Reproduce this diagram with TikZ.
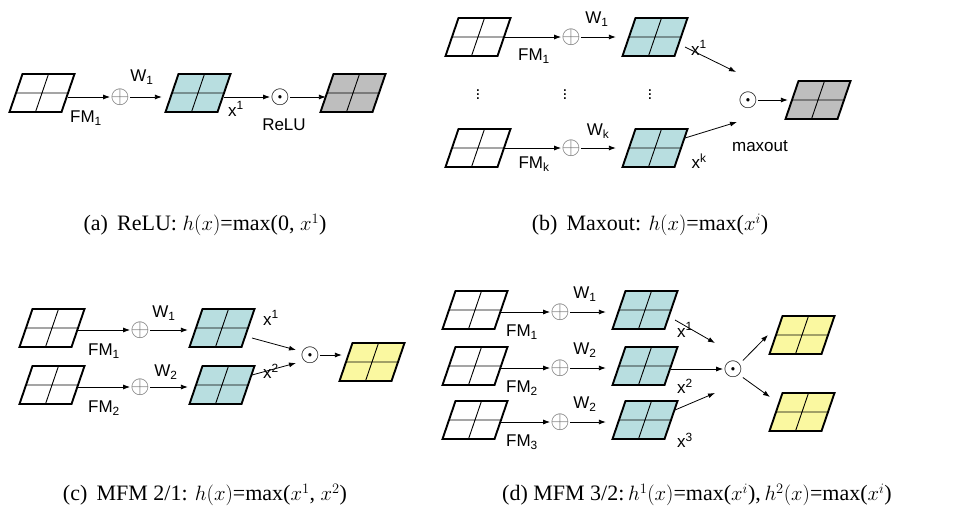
\documentclass[tikz,border=0pt]{standalone}
\usepackage{fontspec}
\setmainfont{Liberation Serif}
\newfontfamily\lab{Liberation Sans}
\usetikzlibrary{arrows.meta}
\tikzset{
  x=1pt,y=-1pt,
  fm/.pic={
    \coordinate (-c) at (0,0);
    \coordinate (-e) at (26,0);
    \coordinate (-w) at (-26,0);
    \coordinate (-se) at (30,10);
    \coordinate (-ne) at (30,-10);
    \fill[#1] (-32.5,19)--(19.5,19)--(32.5,-19)--(-19.5,-19)--cycle;
    \draw[line width=0.9pt] (-26,0)--(26,0) (6.5,-19)--(-6.5,19);
    \draw[line width=1.9pt,line join=miter] (-32.5,19)--(19.5,19)--(32.5,-19)--(-19.5,-19)--cycle;
  },
  arr/.style={-{Latex[length=7pt,width=5pt]},line width=0.8pt},
  op/.style={inner sep=0pt,font=\fontsize{28}{28}\selectfont},
  plus/.style={op,text=black!55},
  lb/.style={font=\lab\fontsize{17}{17}\selectfont,inner sep=0pt},
  captxt/.style={font=\fontsize{22}{24}\selectfont,inner sep=0pt},
}
\definecolor{cy}{RGB}{184,222,224}
\definecolor{gy}{RGB}{190,190,190}
\definecolor{yl}{RGB}{250,248,160}
\begin{document}
\begin{tikzpicture}
\useasboundingbox (0,0) rectangle (980,515);
% (a)
\pic (a1) at (42,93) {fm=white};
\node[plus] (ap) at (120,97) {$\oplus$};
\pic (ac) at (198,93) {fm=cy};
\node[op] (ao) at (280,97) {$\odot$};
\pic (ag) at (353,93) {fm=gy};
\draw[arr] (a1-e |- ap) -- (ap.west);
\draw[arr] (ap.east) -- ++(32,0);
\draw[arr] (ac-e |- ao) -- (ao.west);
\draw[arr] (ao.east) -- ++(36,0);
\node[lb] at (86,118) {FM\textsubscript{1}};
\node[lb] at (142,77) {W\textsubscript{1}};
\node[lb] at (236,109) {x\textsuperscript{1}};
\node[lb] at (284,125) {ReLU};
\node[captxt] at (205,225) {(a)\, ReLU: $h(x)$=max(0, $x^1$)};
% (b)
\pic (b1) at (478,37) {fm=white};
\node[plus] (bp1) at (571,37) {$\oplus$};
\pic (bc1) at (655,37) {fm=cy};
\pic (bk) at (478,148) {fm=white};
\node[plus] (bpk) at (571,148) {$\oplus$};
\pic (bck) at (655,148) {fm=cy};
\node[op] (bo) at (748,100) {$\odot$};
\pic (bg) at (818,100) {fm=gy};
\draw[arr] (b1-e |- bp1) -- (bp1.west);
\draw[arr] (bp1.east) -- ++(35,0);
\draw[arr] (bk-e |- bpk) -- (bpk.west);
\draw[arr] (bpk.east) -- ++(35,0);
\draw[arr] (bc1-se) -- (736,72);
\draw[arr] (bck-ne) -- (737,122);
\draw[arr] (bo.east) -- ++(30,0);
\node[lb] at (534,56) {FM\textsubscript{1}};
\node[lb] at (597,19) {W\textsubscript{1}};
\node[lb] at (699,48) {x\textsuperscript{1}};
\node[lb] at (534,164) {FM\textsubscript{k}};
\node[lb] at (598,131) {W\textsubscript{k}};
\node[lb] at (699,161) {x\textsuperscript{k}};
\node[lb] at (760,146) {maxout};
\foreach \xx in {478,565,650} \node[lb] at (\xx,92) {$\vdots$};
\node[captxt] at (650,225) {(b)\, Maxout: $h(x)$=max($x^i$)};
% (c)
\pic (c1) at (52,328) {fm=white};
\node[plus] (cp1) at (140,330) {$\oplus$};
\pic (cc1) at (222,328) {fm=cy};
\pic (c2) at (52,385) {fm=white};
\node[plus] (cp2) at (140,387) {$\oplus$};
\pic (cc2) at (222,385) {fm=cy};
\node[op] (co) at (310,355) {$\odot$};
\pic (cy) at (372,362) {fm=yl};
\draw[arr] (c1-e |- cp1) -- (cp1.west);
\draw[arr] (cp1.east) -- ++(38,0);
\draw[arr] (c2-e |- cp2) -- (cp2.west);
\draw[arr] (cp2.east) -- ++(38,0);
\draw[arr] (cc1-se) -- (296,350);
\draw[arr] (cc2-ne) -- (296,363);
\draw[arr] (co.east) -- ++(22,0);
\node[lb] at (104,351) {FM\textsubscript{1}};
\node[lb] at (164,313) {W\textsubscript{1}};
\node[lb] at (271,318) {x\textsuperscript{1}};
\node[lb] at (104,408) {FM\textsubscript{2}};
\node[lb] at (166,372) {W\textsubscript{2}};
\node[lb] at (271,371) {x\textsuperscript{2}};
\node[captxt] at (205,495) {(c)\, MFM 2/1: $h(x)$=max($x^1$, $x^2$)};
% (d)
\foreach \i/\yy in {1/310,2/366,3/420}{
  \pic (d\i) at (475,\yy) {fm=white};
  \node[plus] (dp\i) at (560,\yy+2) {$\oplus$};
  \pic (dc\i) at (645,\yy) {fm=cy};
  \draw[arr] (d\i-e |- dp\i) -- (dp\i.west);
  \draw[arr] (dp\i.east) -- ++(36,0);
  \node[lb] at (522,\yy+22) {FM\textsubscript{\i}};
  \node[lb] at (685,\yy+20) {x\textsuperscript{\i}};
}
\node[lb] at (585,294) {W\textsubscript{1}};
\node[lb] at (585,350) {W\textsubscript{2}};
\node[lb] at (585,404) {W\textsubscript{2}};
\node[op] (do) at (733,369) {$\odot$};
\pic (dy1) at (802,335) {fm=yl};
\pic (dy2) at (802,412) {fm=yl};
\draw[arr] (dc1-se) -- (715,343);
\draw[arr] (dc2-e |- do) -- (do.west);
\draw[arr] (dc3-ne) -- (715,393);
\draw[arr] (do.north east) -- (768,335);
\draw[arr] (do.south east) -- (770,397);
\node[captxt] at (697,495) {(d) MFM 3/2:\,$h^1(x)$=max($x^i$),\,$h^2(x)$=max($x^i$)};
\end{tikzpicture}
\end{document}
